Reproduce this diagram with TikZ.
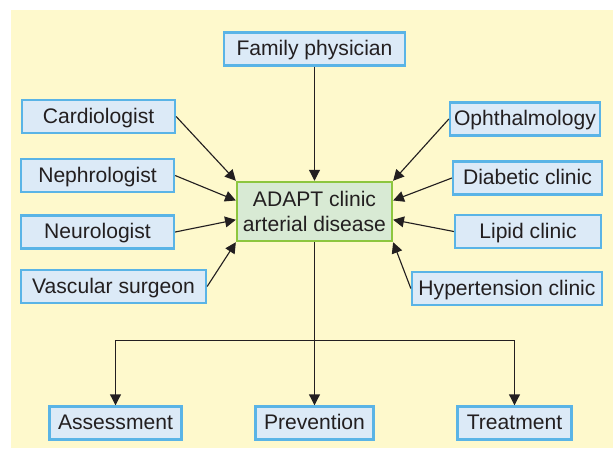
\documentclass[tikz,border=0pt]{standalone}
\usepackage{fontspec}
\setmainfont{Liberation Sans}
\usetikzlibrary{arrows.meta}
\definecolor{bgyellow}{HTML}{FEF9CC}
\definecolor{boxblue}{HTML}{DCEAF7}
\definecolor{lineblue}{HTML}{5AB4E6}
\definecolor{boxgreen}{HTML}{D8EAD4}
\definecolor{linegreen}{HTML}{8DC63F}
\definecolor{ink}{HTML}{231F20}
\begin{document}
\begin{tikzpicture}[x=0.025cm,y=-0.025cm,
    font=\fontsize{15}{17.8}\selectfont, text=ink,
    unit/.style={draw=lineblue,fill=boxblue,line width=1.6pt,minimum height=0.83cm,
        inner sep=2pt,text height=12.5pt,text depth=3pt},
    clinic/.style={draw=linegreen,fill=boxgreen,line width=1.6pt,minimum height=1.48cm,
        minimum width=3.875cm,inner sep=2pt,align=center},
    link/.style={draw=ink,line width=0.8pt,-{Triangle[length=0.27cm,width=0.27cm]}}]
    \useasboundingbox (0,0) rectangle (613,450);
    \fill[bgyellow] (11,10) rectangle (613,448);
    %% centre
    \node[clinic] (adapt) at (314.5,211.5) {ADAPT clinic\\arterial disease};
    %% top and left
    \node[unit,minimum width=4.525cm] (family) at (314.5,49) {Family physician};
    \node[unit,minimum width=3.825cm] (cardio) at (98.5,116.5) {Cardiologist};
    \node[unit,minimum width=3.825cm] (nephro) at (97.5,175.5) {Nephrologist};
    \node[unit,minimum width=3.825cm] (neuro) at (97.5,232) {Neurologist};
    \node[unit,minimum width=4.625cm] (vascular) at (113.5,286.5) {Vascular surgeon};
    %% right
    \node[unit,minimum width=3.75cm] (ophthal) at (525,119) {Ophthalmology};
    \node[unit,minimum width=3.725cm] (diabetic) at (527.5,178) {Diabetic clinic};
    \node[unit,minimum width=3.65cm] (lipid) at (528,231.5) {Lipid clinic};
    \node[unit,minimum width=4.75cm] (hyper) at (507,288.5) {Hypertension clinic};
    %% bottom
    \node[unit,minimum width=3.3cm] (assess) at (115.5,423) {Assessment};
    \node[unit,minimum width=2.95cm] (prevent) at (314.5,423) {Prevention};
    \node[unit,minimum width=2.85cm] (treat) at (514.5,423) {Treatment};
    %% arrows in
    \draw[link] (family) -- (adapt);
    \draw[link] (cardio.east) -- (adapt.north west);
    \draw[link] (nephro.east) -- (adapt.172);
    \draw[link] (neuro.east) -- (adapt.186);
    \draw[link] (vascular.east) -- (adapt.south west);
    \draw[link] (ophthal.west) -- (adapt.north east);
    \draw[link] (diabetic.west) -- (adapt.8);
    \draw[link] (lipid.west) -- (adapt.354);
    \draw[link] (hyper.west) -- (adapt.south east);
    %% arrows out
    \coordinate (split) at (314.5,340.5);
    \draw[link] (adapt) -- (prevent);
    \draw[link] (split) -| (assess);
    \draw[link] (split) -| (treat);
\end{tikzpicture}
\end{document}
